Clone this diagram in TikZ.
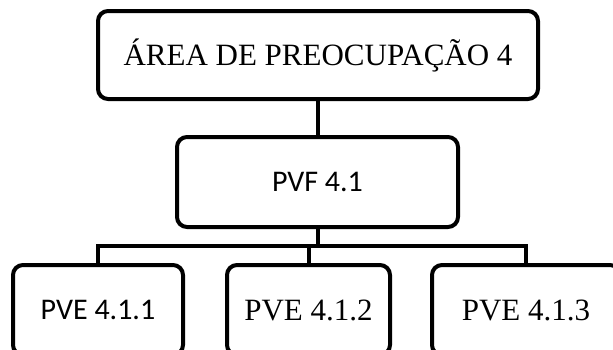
\documentclass[tikz,border=0pt]{standalone}
\usepackage{fontspec}
\setmainfont{Liberation Serif}
\newfontfamily\calibri{Carlito}

\begin{document}
\begin{tikzpicture}[x=1pt,y=-1pt,
		caixa/.style={draw,line width=4pt,rounded corners=10pt,inner sep=0pt,minimum height=90pt},
		serifa/.style={font=\fontsize{31}{36}\selectfont},
		semserifa/.style={font=\calibri\fontsize{30}{36}\selectfont},
		ligacao/.style={line width=4pt}]
			\clip (0,0) rectangle (613,349);

			\node[caixa,serifa,minimum width=440pt,minimum height=88pt] (area) at (318,55) {ÁREA DE PREOCUPAÇÃO 4};
			\node[caixa,semserifa,minimum width=281pt] (pvf) at (317.5,182) {PVF 4.1};

			\node[caixa,semserifa,minimum width=170pt,anchor=north] (pve1) at (98,263) {PVE 4.1.1};
			\node[caixa,serifa,minimum width=163pt,anchor=north] (pve2) at (308.5,263) {PVE 4.1.2};
			\node[caixa,serifa,minimum width=188pt,anchor=north] (pve3) at (526,263) {PVE 4.1.3};

			\coordinate (barra) at (0,246);

			\draw[ligacao] (area.south) -- (area.south |- pvf.north);
			\draw[ligacao] (pvf.south) -- (pvf.south |- barra);
			\draw[ligacao] (pve1.north) -- (pve1.north |- barra) -- (pve3.north |- barra) -- (pve3.north);
			\draw[ligacao] (pve2.north) -- (pve2.north |- barra);
		\end{tikzpicture}
\end{document}
